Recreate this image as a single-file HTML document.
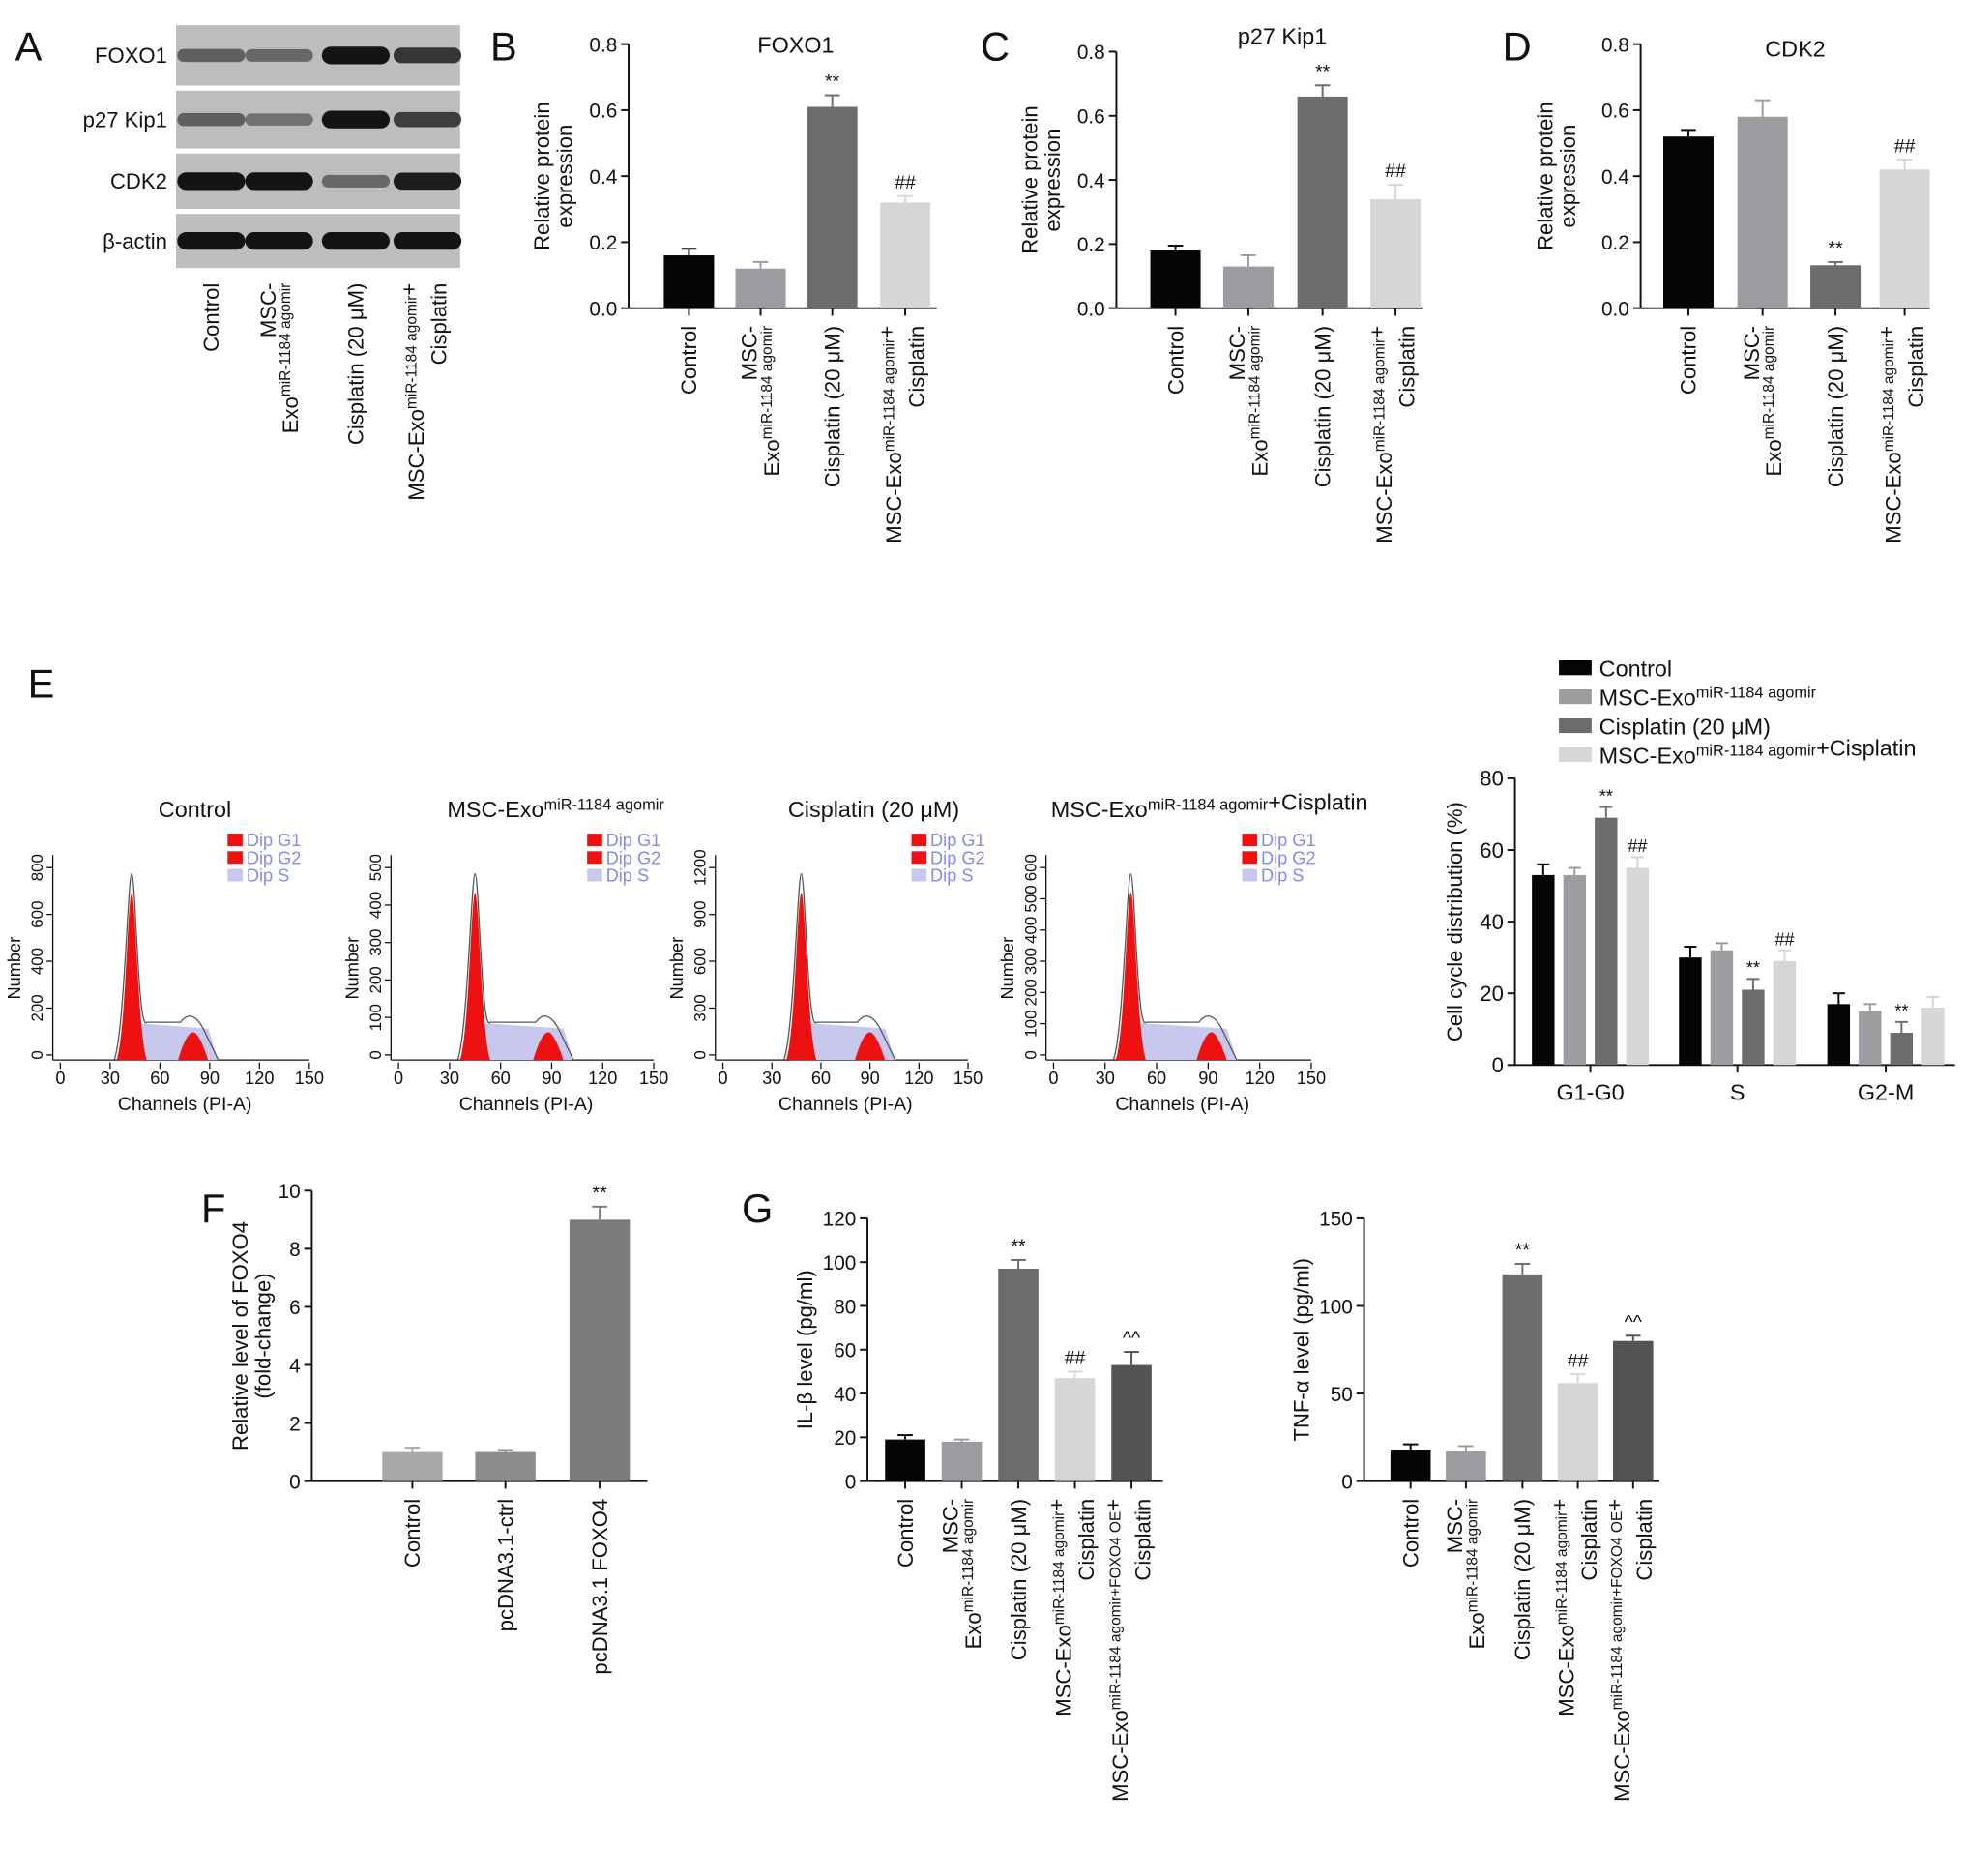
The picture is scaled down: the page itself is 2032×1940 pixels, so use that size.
<!DOCTYPE html>
<html><head><meta charset="utf-8"><style>
html,body{margin:0;padding:0;background:#fff}
svg{display:block;font-family:"Liberation Sans",Arial,sans-serif}
</style></head><body>
<svg id="fig" width="2032" height="1940" viewBox="0 0 1563 1492" xmlns="http://www.w3.org/2000/svg">
<g id="root"></g>
</svg>
<script>
// ---- data ----
const bCats = ["Control","MSC-Exo agomir","Cisplatin","MSC-Exo+Cisplatin"];
const fox1Vals = [0.16,0.12,0.61,0.32];
const fox1Err = [0.02,0.02,0.035,0.02];
const p27Vals = [0.18,0.13,0.66,0.34];
const p27Err = [0.015,0.035,0.035,0.045];
const cdk2Vals = [0.52,0.58,0.13,0.42];
const cdk2Err = [0.02,0.05,0.01,0.03];
const protTicks = [0,0.2,0.4,0.6,0.8];
const ccGroups = ["G1-G0","S","G2-M"];
const ccControl = [53,30,17];
const ccAgomir = [53,32,15];
const ccCis = [69,21,9];
const ccCombo = [55,29,16];
const ccTicks = [0,20,40,60,80];
const fCats = ["Control","pcDNA3.1-ctrl","pcDNA3.1 FOXO4"];
const fVals = [1,1,9];
const fErr = [0.15,0.07,0.45];
const fTicks = [0,2,4,6,8,10];
const il1Vals = [19,18,97,47,53];
const il1Err = [2,1,4,3,6];
const il1Ticks = [0,20,40,60,80,100,120];
const tnfVals = [18,17,118,56,80];
const tnfErr = [3,3,6,5,3];
const tnfTicks = [0,50,100,150];

const NS="http://www.w3.org/2000/svg";
const root=document.getElementById('root');
function mk(tag,attrs,parent){const e=document.createElementNS(NS,tag);for(const k in attrs)e.setAttribute(k,attrs[k]);(parent||root).appendChild(e);return e;}
function txt(x,y,s,size,anchor,parent,extra){const t=mk('text',Object.assign({x:x,y:y,'font-size':size,'text-anchor':anchor||'middle',fill:'#111'},extra||{}),parent);t.textContent=s;return t;}
function rtxt(x,y,lines,size,parent){
  const g=mk('g',{transform:`translate(${x},${y}) rotate(-90)`},parent);
  lines.forEach((l,i)=>{const t=mk('text',{x:0,y:(i-(lines.length-1)/2)*size*1.05+size*0.35,'font-size':size,'text-anchor':'end',fill:'#111'},g);t.innerHTML=l;});
  return g;
}
const sup=s=>`<tspan font-size="0.7em" dy="-6">${s}</tspan><tspan dy="6"></tspan>`;

function barChart(o){
  const g=mk('g',{});
  
  
  const tmax=o.ticks[o.ticks.length-1];
  const Y=v=>o.y0-(v/tmax)*(o.y0-o.ytop);
  const ax=mk('line',{x1:o.ax,y1:o.ytop,x2:o.ax,y2:o.y0,stroke:'#111','stroke-width':1.5},g);
  
  
  const xa=mk('line',{x1:o.ax,y1:o.y0,x2:o.xend,y2:o.y0,stroke:'#111','stroke-width':1.5},g);
  
  
  o.ticks.forEach(t=>{mk('line',{x1:o.ax-6,x2:o.ax,y1:Y(t),y2:Y(t),stroke:'#111','stroke-width':1.5},g);
    const tl=txt(o.ax-9,Y(t)+6,o.fmt?o.fmt(t):String(t),16,'end',g);
    
    });
  o.vals.forEach((v,i)=>{
    const cx=o.cx[i];
    const r=mk('rect',{x:cx-o.bw/2,y:Y(v),width:o.bw,height:o.y0-Y(v),fill:o.colors[i]},g);
    
    
    if(o.err){const e=o.err[i];mk('line',{x1:cx,x2:cx,y1:Y(v),y2:Y(v+e),stroke:o.colors[i],'stroke-width':1.5},g);
      mk('line',{x1:cx-6,x2:cx+6,y1:Y(v+e),y2:Y(v+e),stroke:o.colors[i],'stroke-width':1.5},g);}
    mk('line',{x1:cx,x2:cx,y1:o.y0,y2:o.y0+6,stroke:'#111','stroke-width':1.5},g);
    if(o.marks&&o.marks[i]){const m=txt(cx,Y(v+(o.err?o.err[i]:0))-6,o.marks[i],15,'middle',g);
      
      }
  });
  const yt=rtxt(o.ylx,(o.y0+o.ytop)/2,o.ylab,17,g);
  yt.setAttribute('transform',`translate(${o.ylx},${(o.y0+o.ytop)/2}) rotate(-90)`);
  yt.querySelectorAll('text').forEach(t=>t.setAttribute('text-anchor','middle'));
  
  
  if(o.title){const tt=txt(o.tx,o.ty,o.title,18,'middle',g);
    
    }
  if(o.xlabels){o.xlabels.forEach((ls,i)=>{const l=rtxt(o.cx[i]+(o.xoff||0),o.y0+14,ls,17,g);
    
    });}
  return g;
}
function panelLetter(x,y,s){const t=txt(x,y,s,32,'start');}
const C4=['#050505','#9c9ca0','#6c6c6c','#d6d6d6'];
const protX=[["Control"],["MSC-","Exo"+sup("miR-1184 agomir")],["Cisplatin (20 μM)"],["MSC-Exo"+sup("miR-1184 agomir")+"+","Cisplatin"]];

// ---- Panel A: western blot ----
panelLetter(12,48,"A");
const blot=mk('g',{});


const rows=[["FOXO1",20,68,[0.55,0.5,1,0.8]],["p27 Kip1",72,118,[0.55,0.45,1,0.75]],["CDK2",122,166,[1,1,0.5,0.95]],["β-actin",170,213,[1,1,1,1]]];
const lanes=[168,222,283,340];
rows.forEach((r,ri)=>{
  const top=r[1],bot=r[2];
  mk('rect',{x:140,y:top,width:226,height:bot-top,fill:'#bdbdbd'},blot);
  const lb=txt(133,(top+bot)/2+6,r[0],17,'end',blot);
  
  
  lanes.forEach((lx,li)=>{const a=r[3][li];const hh=6+a*8;
    mk('rect',{x:lx-27,y:(top+bot)/2-hh/2,width:54,height:hh,rx:hh/2,fill:'#141414','fill-opacity':a},blot);});
});
protX.forEach((ls,i)=>{const l=rtxt(lanes[i],225,ls,17);});

// ---- B C D ----
panelLetter(390,48,"B");panelLetter(780,48,"C");panelLetter(1195,48,"D");
const protLab=["Relative protein","expression"];
barChart({name:'foxo1-chart',ax:500,y0:245,ytop:35,xend:745,ticks:protTicks,fmt:t=>t.toFixed(1),vals:fox1Vals,err:fox1Err,cx:[548,605,662,720],bw:40,colors:C4,marks:['','','**','##'],ylab:protLab,ylx:440,title:'FOXO1',tx:633,ty:42,xlabels:protX});
barChart({name:'p27-chart',ax:888,y0:245,ytop:41,xend:1132,ticks:protTicks,fmt:t=>t.toFixed(1),vals:p27Vals,err:p27Err,cx:[935,993,1052,1110],bw:40,colors:C4,marks:['','','**','##'],ylab:protLab,ylx:828,title:'p27 Kip1',tx:1020,ty:35,xlabels:protX});
barChart({name:'cdk2-chart',ax:1305,y0:245,ytop:35,xend:1535,ticks:protTicks,fmt:t=>t.toFixed(1),vals:cdk2Vals,err:cdk2Err,cx:[1343,1402,1460,1515],bw:40,colors:C4,marks:['','','**','##'],ylab:protLab,ylx:1238,title:'CDK2',tx:1428,ty:45,xlabels:protX});

// ---- Panel E histograms ----
panelLetter(22,555,"E");
const hists=[
 {x0:48,x1:246,title:'Control',tx:155,ticks:[0,200,400,600,800],peak:43,h2:80},
 {x0:317,x1:520,title:'MSC-Exo'+sup('miR-1184 agomir'),tx:442,ticks:[0,100,200,300,400,500],peak:45,h2:88},
 {x0:575,x1:770,title:'Cisplatin (20 μM)',tx:695,ticks:[0,300,600,900,1200],peak:48,h2:90},
 {x0:838,x1:1043,title:'MSC-Exo'+sup('miR-1184 agomir')+'+Cisplatin',tx:962,ticks:[0,100,200,300,400,500,600],peak:45,h2:92}];
hists.forEach((h,hi)=>{
  const g=mk('g',{});
  
  
  const y0=843,top=690;const X=c=>h.x0+c/150*(h.x1-h.x0);
  const t=mk('text',{x:h.tx,y:650,'font-size':18,'text-anchor':'middle',fill:'#111'},g);t.innerHTML=h.title;
  mk('line',{x1:h.x0-6,y1:y0,x2:h.x1,y2:y0,stroke:'#111'},g);
  mk('line',{x1:h.x0-6,y1:y0,x2:h.x0-6,y2:top-10,stroke:'#111'},g);
  [0,30,60,90,120,150].forEach(c=>{mk('line',{x1:X(c),x2:X(c),y1:y0+2,y2:y0+7,stroke:'#111'},g);txt(X(c),y0+19,String(c),14,'middle',g);});
  const n=h.ticks.length-1;
  h.ticks.forEach((tv,i)=>{const yy=y0-4-i*(y0-4-top)/n;mk('line',{x1:h.x0-11,x2:h.x0-6,y1:yy,y2:yy,stroke:'#111'},g);
    const tl=mk('g',{transform:`translate(${h.x0-14},${yy}) rotate(-90)`},g);txt(0,0,String(tv),13,'middle',tl);});
  const yl=mk('g',{transform:`translate(${h.x0-32},${770}) rotate(-90)`},g);txt(0,0,'Number',14,'middle',yl);
  txt((h.x0+h.x1)/2,883,'Channels (PI-A)',15,'middle',g);
  const p=X(h.peak),p2=X(h.h2);
  mk('path',{d:`M${p-10},${y0} L${p2+20},${y0} L${p2+12},${y0-25} L${p-5},${y0-30} Z`,fill:'#c8c8ee'},g);
  mk('path',{d:`M${p-12},${y0} C${p-5},${y0-20} ${p-3},${top+20} ${p},${top+20} C${p+3},${top+20} ${p+5},${y0-20} ${p+12},${y0} Z`,fill:'#ee1111'},g);
  mk('path',{d:`M${p2-12},${y0} C${p2-6},${y0-20} ${p2-2},${y0-22} ${p2},${y0-22} C${p2+3},${y0-22} ${p2+7},${y0-15} ${p2+12},${y0} Z`,fill:'#ee1111'},g);
  mk('path',{d:`M${p-14},${y0} C${p-6},${y0-20} ${p-3},${top+5} ${p},${top+5} C${p+3},${top+5} ${p+5},${y0-20} ${p+12},${y0-30} L${p2-10},${y0-30} C${p2-4},${y0-38} ${p2+2},${y0-36} ${p2+8},${y0-25} L${p2+20},${y0}`,fill:'none',stroke:'#555','stroke-width':1},g);
  const lx=h.x0+(hi==0?133:150);
  [['#ee1111','Dip G1'],['#ee1111','Dip G2'],['#c8c8ee','Dip S']].forEach((l,i)=>{mk('rect',{x:lx,y:663+i*14,width:12,height:10,fill:l[0]},g);txt(lx+15,673+i*14,l[1],14,'start',g,{fill:'#8888ee'});});
});

// ---- Panel E bar chart ----
(function(){
  const g=mk('g',{});
  
  
  const ax=1205,y0=847,ytop=619;const Y=v=>y0-v/80*(y0-ytop);
  mk('line',{x1:ax,x2:ax,y1:ytop,y2:y0,stroke:'#111','stroke-width':1.5},g);
  mk('line',{x1:ax,x2:1555,y1:y0,y2:y0,stroke:'#111','stroke-width':1.5},g);
  ccTicks.forEach(t=>{mk('line',{x1:ax-6,x2:ax,y1:Y(t),y2:Y(t),stroke:'#111','stroke-width':1.5},g);txt(ax-9,Y(t)+6,String(t),17,'end',g);});
  const series=[ccControl,ccAgomir,ccCis,ccCombo];
  const gc=[1265,1382,1500];const errs=[3,2,3,3];
  const marks=[[],[],['**','**','**'],['##','##','']];
  ccGroups.forEach((name,gi)=>{
    series.forEach((s,si)=>{const cx=gc[gi]+(si-1.5)*25;const v=s[gi];
      const r=mk('rect',{x:cx-9,y:Y(v),width:18,height:y0-Y(v),fill:C4[si]},g);
      
      
      mk('line',{x1:cx,x2:cx,y1:Y(v),y2:Y(v+errs[si]),stroke:C4[si],'stroke-width':1.5},g);
      mk('line',{x1:cx-5,x2:cx+5,y1:Y(v+errs[si]),y2:Y(v+errs[si]),stroke:C4[si],'stroke-width':1.5},g);
      if(marks[si][gi])txt(cx,Y(v+errs[si])-4,marks[si][gi],14,'middle',g);});
    mk('line',{x1:gc[gi],x2:gc[gi],y1:y0,y2:y0+6,stroke:'#111','stroke-width':1.5},g);
    txt(gc[gi],y0+28,name,18,'middle',g);
  });
  const yl=mk('g',{transform:`translate(1163,733) rotate(-90)`},g);txt(0,0,'Cell cycle distribution (%)',17,'middle',yl);
  const leg=[['Control'],['MSC-Exo'+sup('miR-1184 agomir')],['Cisplatin (20 μM)'],['MSC-Exo'+sup('miR-1184 agomir')+'+Cisplatin']];
  leg.forEach((l,i)=>{const lg=mk('g',{},g);
    
    
    mk('rect',{x:1240,y:525+i*23,width:26,height:12,fill:C4[i]},lg);
    const t=mk('text',{x:1272,y:538+i*23,'font-size':18,fill:'#111'},lg);t.innerHTML=l[0];});
})();

// ---- Panel F ----
panelLetter(160,972,"F");
barChart({name:'foxo4-chart',ax:248,y0:1178,ytop:947,xend:515,ticks:fTicks,vals:fVals,err:fErr,cx:[328,402,477],bw:48,colors:['#a8a8a8','#8c8c8c','#7c7c7c'],marks:['','','**'],ylab:['Relative level of FOXO4','(fold-change)'],ylx:200,xlabels:[["Control"],["pcDNA3.1-ctrl"],["pcDNA3.1 FOXO4"]]});

// ---- Panel G ----
panelLetter(590,972,"G");
const C5=['#050505','#9c9ca0','#6c6c6c','#d6d6d6','#545454'];
const gX=[["Control"],["MSC-","Exo"+sup("miR-1184 agomir")],["Cisplatin (20 μM)"],["MSC-Exo"+sup("miR-1184 agomir")+"+","Cisplatin"],["MSC-Exo"+sup("miR-1184 agomir+FOXO4 OE")+"+","Cisplatin"]];
barChart({name:'il1b-chart',ax:690,y0:1178,ytop:969,xend:925,ticks:il1Ticks,vals:il1Vals,err:il1Err,cx:[720,765,810,855,900],bw:32,colors:C5,marks:['','','**','##','^^'],ylab:['IL-β level (pg/ml)'],ylx:640,xlabels:gX});
barChart({name:'tnfa-chart',ax:1085,y0:1178,ytop:969,xend:1320,ticks:tnfTicks,vals:tnfVals,err:tnfErr,cx:[1122,1166,1211,1255,1299],bw:32,colors:C5,marks:['','','**','##','^^'],ylab:['TNF-α level (pg/ml)'],ylx:1035,xlabels:gX});
</script>
</body></html>
